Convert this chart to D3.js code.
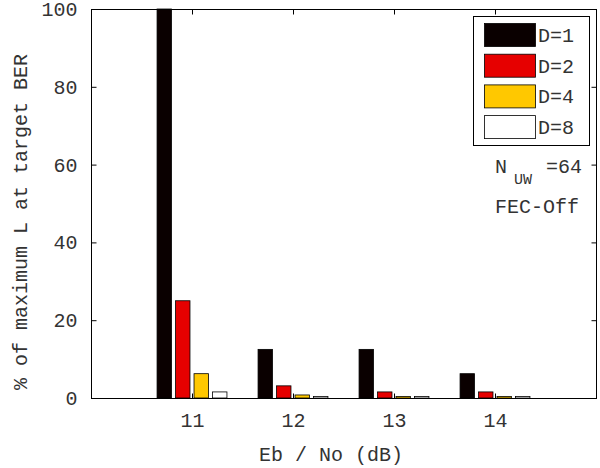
<!DOCTYPE html>
<html><head><meta charset="utf-8">
<script src="https://cdn.jsdelivr.net/npm/d3@7"></script>
<style>body{margin:0;background:#fff}text{font-family:"Liberation Mono","DejaVu Sans Mono",monospace;fill:#333}</style>
</head><body><svg id="c" width="600" height="468"></svg>
<script>
const categories = [11, 12, 13, 14];
const seriesNames = ["D=1", "D=2", "D=4", "D=8"];
const seriesColors = ["#0a0000", "#e60000", "#ffc800", "#ffffff"];
const d1 = [100, 12.5, 12.5, 6.25];
const d2 = [25, 3.125, 1.5625, 1.5625];
const d4 = [6.25, 0.78, 0.39, 0.39];
const d8 = [1.5625, 0.39, 0.39, 0.39];
const yTicks = [0, 20, 40, 60, 80, 100];
const series = [d1, d2, d4, d8];

const svg = d3.select("#c");
const L = 91, R = 596, T = 9, B = 398;
const x = d3.scaleLinear().domain([10, 15]).range([L, R]);
const y = d3.scaleLinear().domain([0, 100]).range([B, T]);
const step = 0.183, bw = 0.143;

// bars
series.forEach((vals, i) => {
  svg.append("g").selectAll("rect").data(vals).join("rect")
    .attr("x", (v, j) => x(categories[j] + (i - 1.5) * step - bw / 2))
    .attr("width", x(10 + bw) - x(10))
    .attr("y", v => y(v))
    .attr("height", v => Math.max(0, y(0) - y(v)))
    .attr("fill", seriesColors[i])
    .attr("stroke", "#000").attr("stroke-width", 0.8);
});

// frame
svg.append("rect").attr("x", L + 0.5).attr("y", T + 0.5).attr("width", R - L).attr("height", B - T)
  .attr("fill", "none").attr("stroke", "#000").attr("stroke-width", 1);

// axes (ticks inward)
const tk = 5;
const yAxisL = d3.axisLeft(y).tickValues(yTicks).tickSize(-tk).tickPadding(14);
svg.append("g").attr("transform", `translate(${L + 0.5},0)`).call(yAxisL);
const yAxisR = d3.axisRight(y).tickValues(yTicks).tickSize(-tk).tickFormat("");
svg.append("g").attr("transform", `translate(${R + 0.5},0)`).call(yAxisR);
const xAxisB = d3.axisBottom(x).tickValues(categories).tickFormat(d3.format("d")).tickSize(-tk).tickPadding(14);
svg.append("g").attr("transform", `translate(0,${B + 0.5})`).call(xAxisB);
const xAxisT = d3.axisTop(x).tickValues(categories).tickSize(-tk).tickFormat("");
svg.append("g").attr("transform", `translate(0,${T + 0.5})`).call(xAxisT);
svg.selectAll(".domain").remove();
svg.selectAll(".tick line").attr("stroke", "#000");
svg.selectAll(".tick text").style("font-family", '"Liberation Mono",monospace').style("font-size", "20px").attr("fill", "#333");

// axis labels
svg.append("text").attr("x", 331).attr("y", 461).attr("text-anchor", "middle").style("font-size", "20px").text("Eb / No (dB)");
svg.append("text").attr("transform", "translate(27,222) rotate(-90)").attr("text-anchor", "middle").style("font-size", "20px").text("% of maximum L at target BER");

// legend
const lg = svg.append("g");
lg.append("rect").attr("x", 473.5).attr("y", 16.5).attr("width", 116).attr("height", 129).attr("fill", "#fff").attr("stroke", "#000");
seriesNames.forEach((n, i) => {
  const yy = 23 + i * 30.7;
  lg.append("rect").attr("x", 484.5).attr("y", yy + 0.5).attr("width", 51).attr("height", 23)
    .attr("fill", seriesColors[i]).attr("stroke", "#000").attr("stroke-width", 0.8);
  lg.append("text").attr("x", 538).attr("y", yy + 19).style("font-size", "20px").text(n);
});

// annotations
svg.append("text").attr("x", 495).attr("y", 173).style("font-size", "20px").text("N");
svg.append("text").attr("x", 514).attr("y", 184).style("font-size", "15px").text("UW");
svg.append("text").attr("x", 546).attr("y", 173).style("font-size", "20px").text("=64");
svg.append("text").attr("x", 495).attr("y", 213).style("font-size", "20px").text("FEC-Off");
</script></body></html>
